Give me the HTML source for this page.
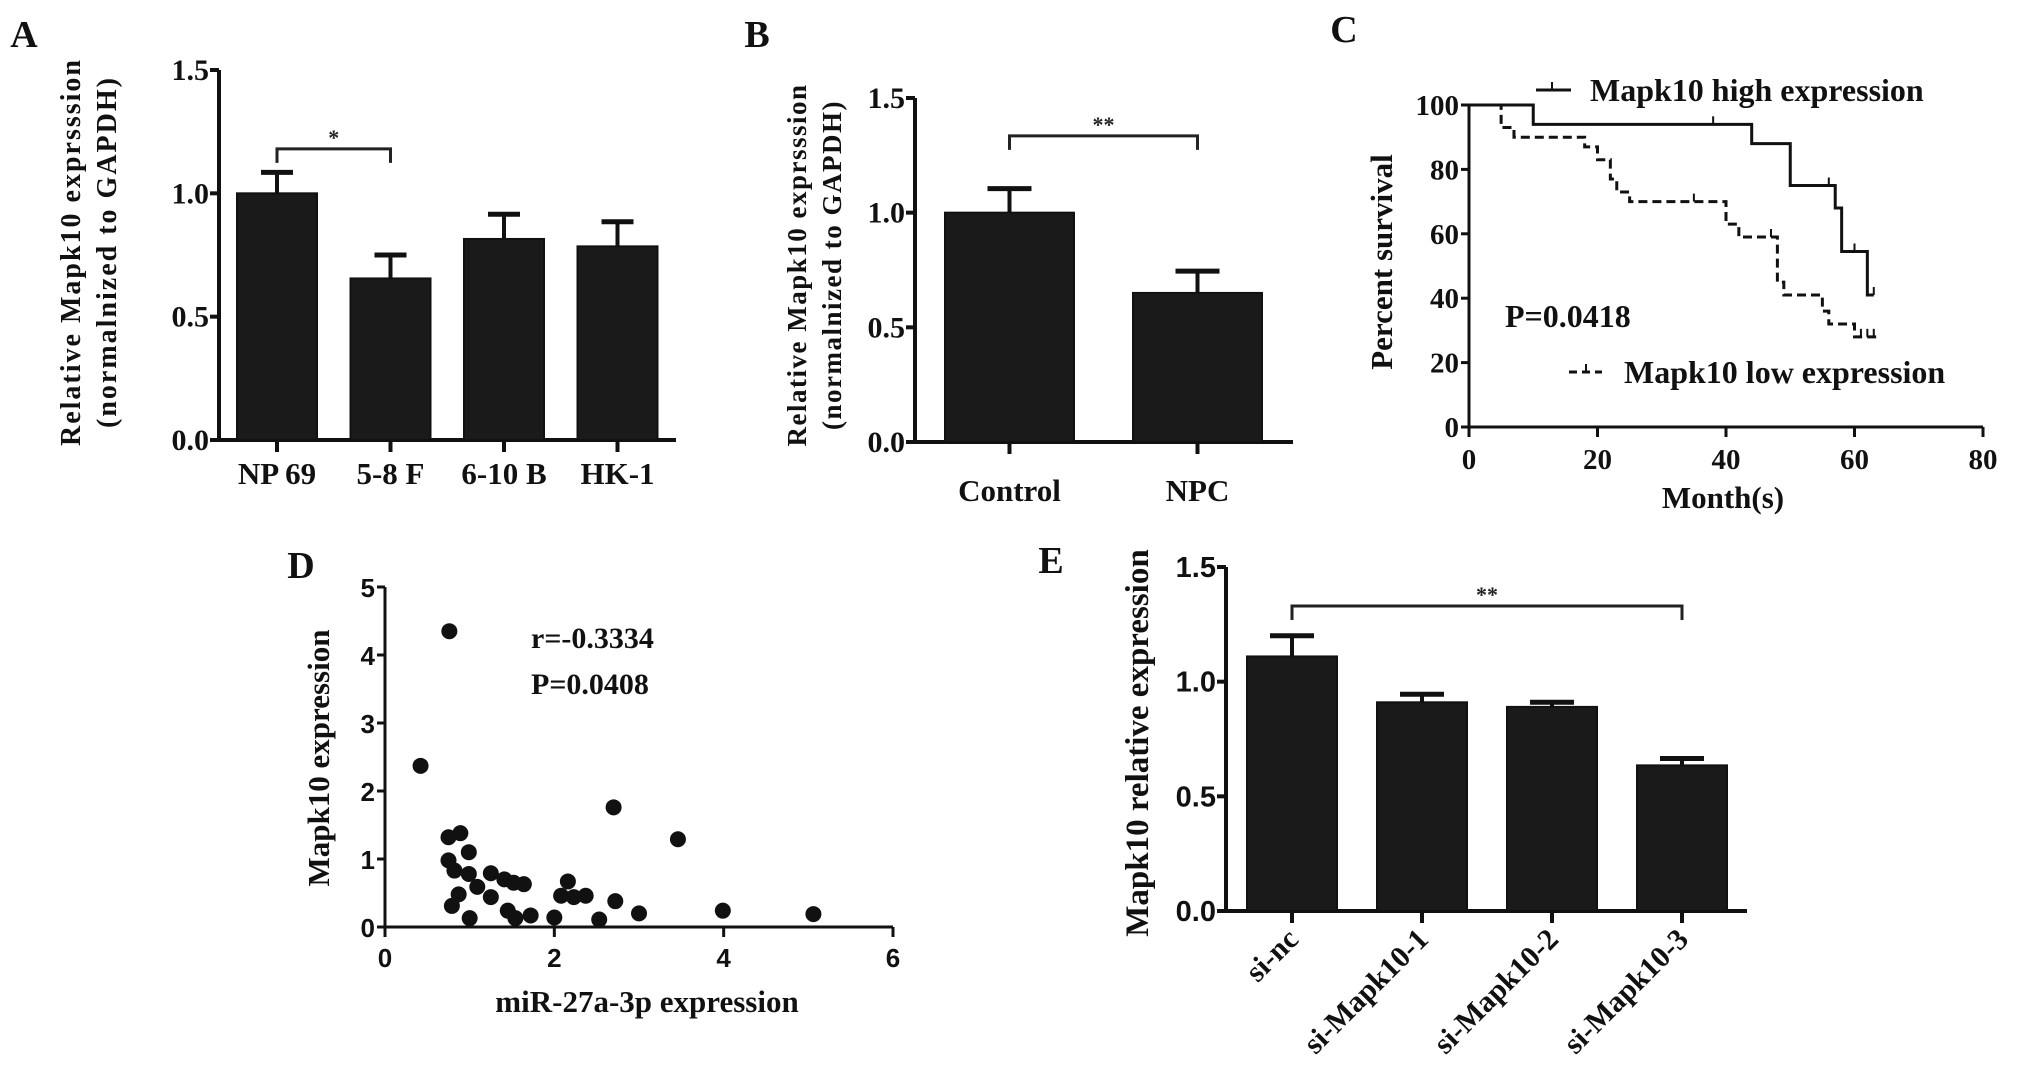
<!DOCTYPE html>
<html><head><meta charset="utf-8"><style>
html,body{margin:0;padding:0;background:#fff;}
svg{display:block;}
.serif{font-family:"Liberation Serif",serif;font-weight:bold;}
.sans{font-family:"Liberation Sans",sans-serif;font-weight:bold;}
</style></head><body>
<svg id="fig" width="2031" height="1088" viewBox="0 0 2031 1088" xmlns="http://www.w3.org/2000/svg"></svg>
<script>
// ---- Panel A data
const aCats = ["NP 69","5-8 F","6-10 B","HK-1"];
const aVals = [1.0,0.655,0.815,0.785];
const aErrs = [1.085,0.75,0.915,0.885];
const aTicks = ["0.0","0.5","1.0","1.5"];
// ---- Panel B data
const bCats = ["Control","NPC"];
const bVals = [1.0,0.65];
const bErrs = [1.105,0.745];
// ---- Panel C data (step survival)
const cHighX = [0,10,44,50,57,58,62,63];
const cHighY = [100,94,88,75,68,54.5,41,41];
const cHighCensor = [38,56,60,63];
const cLowX = [0,5,7,18,20,22,23,25,40,42,48,49,55,56,60,64];
const cLowY = [100,93,90,87,83,77,73,70,63,59,45,41,36,32,28,28];
const cLowCensor = [35,47,61,62,63];
const cXTicks = [0,20,40,60,80];
const cYTicks = [0,20,40,60,80,100];
// ---- Panel D data
const dX = [0.76,0.42,2.70,3.46,0.75,0.89,0.99,0.75,0.82,0.99,1.09,1.25,1.41,1.52,1.64,0.87,1.25,0.79,1.00,1.45,1.54,1.72,2.00,2.08,2.16,2.23,2.37,2.53,2.72,3.00,3.99,5.06];
const dY = [4.35,2.37,1.76,1.29,1.32,1.38,1.10,0.98,0.83,0.78,0.59,0.79,0.70,0.65,0.63,0.48,0.44,0.31,0.13,0.24,0.13,0.17,0.14,0.46,0.67,0.44,0.46,0.11,0.38,0.20,0.24,0.19];
const dXTicks = [0,2,4,6];
const dYTicks = [0,1,2,3,4,5];
// ---- Panel E data
const eCats = ["si-nc","si-Mapk10-1","si-Mapk10-2","si-Mapk10-3"];
const eVals = [1.11,0.91,0.89,0.635];
const eErrs = [1.20,0.945,0.91,0.665];

const NS="http://www.w3.org/2000/svg";
const svg=document.getElementById('fig');
function mk(tag,attrs,parent,text){const e=document.createElementNS(NS,tag);for(const k in attrs)e.setAttribute(k,attrs[k]);if(text!==undefined)e.textContent=text;(parent||svg).appendChild(e);return e;}

function barChart(p,cats,vals,errs,ticks){
  const g=mk('g',{});
  
  
  const ys=v=>p.y0-(v/1.5)*(p.y0-p.y1);
  const ax=mk('path',{d:`M${p.ax},${p.y1} V${p.y0} H${p.xEnd}`,stroke:'#111','stroke-width':4,fill:'none'},g);
  
  
  ticks.forEach((t,i)=>{const v=+t;const y=ys(v);
    mk('line',{x1:p.ax-9,x2:p.ax,y1:y,y2:y,stroke:'#111','stroke-width':4},g);
    const tl=mk('text',{x:p.ax-10,y:y+10,'text-anchor':'end','font-size':p.tfs,class:p.tcls,fill:'#111'},g,t);
    
    
  });
  cats.forEach((c,i)=>{
    const x=p.bx0+i*p.step, cx=x+p.bw/2;
    const yt=ys(vals[i]), ye=ys(errs[i]);
    const b=mk('rect',{x:x,y:yt,width:p.bw,height:p.y0-yt,fill:'#1a1a1a',stroke:'#111','stroke-width':2},g);
    
    
    mk('line',{x1:cx,x2:cx,y1:yt,y2:ye,stroke:'#111','stroke-width':4},g);
    mk('line',{x1:cx-p.cap,x2:cx+p.cap,y1:ye,y2:ye,stroke:'#111','stroke-width':5},g);
    mk('line',{x1:cx,x2:cx,y1:p.y0,y2:p.y0+12,stroke:'#111','stroke-width':4},g);
    let lab;
    if(p.rot){lab=mk('text',{x:cx+8,y:p.y0+30,'text-anchor':'end','font-size':p.xfs,class:'serif',fill:'#111',transform:`rotate(-45 ${cx+8} ${p.y0+30})`},g,c);}
    else {lab=mk('text',{x:cx,y:p.xly,'text-anchor':'middle','font-size':p.xfs,class:'serif',fill:'#111'},g,c);}
    
    
  });
  const i0=p.br[0],i1=p.br[1];
  const xa=p.bx0+i0*p.step+p.bw/2, xb=p.bx0+i1*p.step+p.bw/2, yb=ys(p.brv);
  const br=mk('path',{d:`M${xa},${yb+14} V${yb} H${xb} V${yb+14}`,stroke:'#222','stroke-width':3,fill:'none'},g);
  
  
  const st=mk('text',{x:(xa+xb)/2,y:yb-4,'text-anchor':'middle','font-size':22,class:'serif',fill:'#222'},g,p.star);
  
  
}

barChart({name:'panel-a-bar-chart',ax:219,y0:440,y1:70,xEnd:676,bx0:237,bw:80,step:113.5,cap:16,tfs:30,tcls:'serif',xfs:31,xly:484,br:[0,1],brv:1.18,star:'*'},aCats,aVals,aErrs,aTicks);
barChart({name:'panel-b-bar-chart',ax:915,y0:442,y1:98,xEnd:1293,bx0:945,bw:129,step:188,cap:22,tfs:30,tcls:'serif',xfs:31,xly:501,br:[0,1],brv:1.335,star:'**'},bCats,bVals,bErrs,aTicks);
barChart({name:'panel-e-bar-chart',ax:1226,y0:911,y1:567,xEnd:1747,bx0:1247,bw:90,step:130,cap:22,tfs:29,tcls:'sans',xfs:30,rot:true,br:[0,3],brv:1.33,star:'**'},eCats,eVals,eErrs,aTicks);

(function(){
  const g=mk('g',{});
  
  
  const x0=1469,x1=1983,y0=427,y1=105;
  const xs=v=>x0+v/80*(x1-x0), ys=v=>y0-v/100*(y0-y1);
  mk('path',{d:`M${x0},${y1} V${y0} H${x1}`,stroke:'#111','stroke-width':3,fill:'none'},g);
  cYTicks.forEach(t=>{const y=ys(t);mk('line',{x1:x0-8,x2:x0,y1:y,y2:y,stroke:'#111','stroke-width':3},g);
    const l=mk('text',{x:x0-10,y:y+10,'text-anchor':'end','font-size':29,class:'serif',fill:'#111'},g,String(t));
    
    });
  cXTicks.forEach(t=>{const x=xs(t);mk('line',{x1:x,x2:x,y1:y0,y2:y0+10,stroke:'#111','stroke-width':3},g);
    const l=mk('text',{x:x,y:y0+42,'text-anchor':'middle','font-size':29,class:'serif',fill:'#111'},g,String(t));
    
    });
  function step(X,Y){let d=`M${xs(X[0])},${ys(Y[0])}`;for(let i=1;i<X.length;i++){d+=` H${xs(X[i])} V${ys(Y[i])}`;}return d;}
  function yAt(X,Y,t){let v=Y[0];for(let i=0;i<X.length;i++){if(X[i]<=t)v=Y[i];}return v;}
  const hi=mk('path',{d:step(cHighX,cHighY),stroke:'#111','stroke-width':3,fill:'none'},g);
  
  
  const lo=mk('path',{d:step(cLowX,cLowY),stroke:'#111','stroke-width':3,fill:'none','stroke-dasharray':'9,5'},g);
  
  
  cHighCensor.forEach(t=>{const x=xs(t),y=ys(yAt(cHighX,cHighY,t));mk('line',{x1:x,x2:x,y1:y,y2:y-8,stroke:'#111','stroke-width':2},g);});
  cLowCensor.forEach(t=>{const x=xs(t),y=ys(yAt(cLowX,cLowY,t));mk('line',{x1:x,x2:x,y1:y,y2:y-8,stroke:'#111','stroke-width':2},g);});
  const l1=mk('g',{},g);
  
  
  mk('line',{x1:1536,x2:1571,y1:90,y2:90,stroke:'#111','stroke-width':3},l1);
  mk('line',{x1:1552,x2:1552,y1:90,y2:82,stroke:'#111','stroke-width':2},l1);
  mk('text',{x:1590,y:101,'font-size':32,class:'serif',fill:'#111'},l1,'Mapk10 high expression');
  const l2=mk('g',{},g);
  
  
  mk('line',{x1:1569,x2:1602,y1:372,y2:372,stroke:'#111','stroke-width':3,'stroke-dasharray':'8,5'},l2);
  mk('line',{x1:1586,x2:1586,y1:372,y2:364,stroke:'#111','stroke-width':2},l2);
  mk('text',{x:1624,y:383,'font-size':32,class:'serif',fill:'#111'},l2,'Mapk10 low expression');
  const pv=mk('text',{x:1505,y:327,'font-size':32,class:'serif',fill:'#111'},g,'P=0.0418');
  
  
})();

(function(){
  const g=mk('g',{});
  
  
  const x0=385,x1=893,y0=927,y1=587;
  const xs=v=>x0+v/6*(x1-x0), ys=v=>y0-v/5*(y0-y1);
  mk('path',{d:`M${x0},${y1} V${y0} H${x1}`,stroke:'#111','stroke-width':3,fill:'none'},g);
  dYTicks.forEach(t=>{const y=ys(t);mk('line',{x1:x0-8,x2:x0,y1:y,y2:y,stroke:'#111','stroke-width':3},g);
    const l=mk('text',{x:x0-10,y:y+10,'text-anchor':'end','font-size':26,class:'sans',fill:'#111'},g,String(t));
    
    });
  dXTicks.forEach(t=>{const x=xs(t);mk('line',{x1:x,x2:x,y1:y0,y2:y0+10,stroke:'#111','stroke-width':3},g);
    const l=mk('text',{x:x,y:y0+40,'text-anchor':'middle','font-size':26,class:'sans',fill:'#111'},g,String(t));
    
    });
  dX.forEach((v,i)=>{const c=mk('circle',{cx:xs(v),cy:ys(dY[i]),r:8,fill:'#111'},g);
    
    });
  const r=mk('text',{x:531,y:648,'font-size':30,class:'serif',fill:'#111'},g,'r=-0.3334');
  
  
  const p=mk('text',{x:531,y:694,'font-size':30,class:'serif',fill:'#111'},g,'P=0.0408');
  
  
})();

function label(name,txt,x,y,fs,cls,rot,ls){
  const a={x:x,y:y,'font-size':fs,class:cls,fill:'#111','text-anchor':'middle'};
  if(ls)a['letter-spacing']=ls;
  if(rot)a.transform=`rotate(-90 ${x} ${y})`;
  const t=mk('text',a,svg,txt);
  
  
  return t;
}
label('panel-label-a','A',24,47,38,'serif');
label('panel-label-b','B',757,47,38,'serif');
label('panel-label-c','C',1344,42,38,'serif');
label('panel-label-d','D',301,578,38,'serif');
label('panel-label-e','E',1051,573,38,'serif');
label('a-y-axis-title-line1','Relative Mapk10 exprsssion',80,252,28,'serif',true,2);
label('a-y-axis-title-line2','(normalnized to GAPDH)',116,252,28,'serif',true,2);
label('b-y-axis-title-line1','Relative Mapk10 exprsssion',806,265,27,'serif',true,1.5);
label('b-y-axis-title-line2','(normalnized to GAPDH)',841,265,27,'serif',true,1.5);
label('c-y-axis-title','Percent survival',1392,262,31,'serif',true);
label('c-x-axis-title','Month(s)',1723,508,31,'serif');
label('d-y-axis-title','Mapk10 expression',329,758,31,'serif',true);
label('d-x-axis-title','miR-27a-3p expression',647,1012,31,'serif');
label('e-y-axis-title','Mapk10  relative expression',1148,743,33,'serif',true);
</script>
</body></html>
